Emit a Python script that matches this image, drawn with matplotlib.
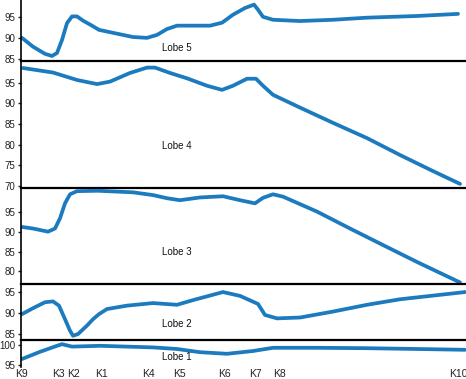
"""Stacked lobe profiles along the K stations."""

import matplotlib
matplotlib.use("Agg")
import matplotlib.pyplot as plt

plt.rcParams["font.family"] = ["Liberation Sans", "DejaVu Sans"]

LINE_COLOR = "#1c7bbf"

# station labels and their positions along the track
stations = ["K9", "K3", "K2", "K1", "K4", "K5", "K6", "K7", "K8", "K10"]
station_pos = [0, 36, 52, 79, 126, 157, 202, 233, 257, 436]

# lobe 5 (top panel)
lobe5_x = [0, 11, 23, 30, 35, 40, 45, 50, 55, 61, 70, 77, 91, 111, 125, 135,
           145, 155, 171, 188, 200, 211, 223, 232, 236, 241, 251, 278, 311,
           345, 395, 436]
lobe5_y = [90.0, 87.9, 86.2, 85.7, 86.4, 89.5, 93.5, 95.1, 95.1, 94.1, 92.9,
           91.9, 91.2, 90.2, 90.0, 90.7, 92.1, 92.9, 92.9, 92.9, 93.6, 95.5,
           97.1, 97.9, 96.7, 95.0, 94.3, 94.0, 94.3, 94.8, 95.2, 95.7]

# lobe 4
lobe4_x = [1, 31, 55, 75, 88, 108, 125, 133, 148, 165, 185, 200, 211, 225,
           234, 241, 251, 278, 311, 345, 378, 411, 438]
lobe4_y = [98.6, 97.5, 95.7, 94.7, 95.3, 97.4, 98.7, 98.7, 97.4, 96.1, 94.3,
           93.3, 94.3, 96.0, 96.0, 94.3, 92.1, 89.0, 85.3, 81.6, 77.5, 73.6, 70.5]

# lobe 3
lobe3_x = [0, 11, 26, 33, 38, 43, 48, 55, 76, 111, 131, 145, 158, 178, 201,
           218, 233, 241, 251, 261, 295, 328, 361, 395, 438]
lobe3_y = [91.3, 90.9, 90.1, 90.9, 93.5, 97.3, 99.6, 100.4, 100.5, 100.1,
           99.4, 98.6, 98.1, 98.8, 99.1, 98.1, 97.3, 98.7, 99.6, 99.0, 95.2,
           90.9, 86.7, 82.4, 77.2]

# lobe 2
lobe2_x = [0, 11, 23, 31, 37, 43, 48, 51, 56, 65, 71, 77, 85, 105, 131, 155,
           171, 201, 218, 236, 243, 255, 278, 311, 345, 378, 443]
lobe2_y = [89.7, 91.1, 92.5, 92.7, 91.7, 88.5, 85.8, 84.6, 85.0, 87.0, 88.5,
           89.7, 90.9, 91.7, 92.3, 91.9, 93.0, 94.9, 94.0, 92.1, 89.5, 88.7,
           88.9, 90.3, 91.9, 93.2, 94.9]

# lobe 1 (bottom panel)
lobe1_x = [0, 18, 35, 40, 50, 78, 131, 155, 178, 205, 231, 251, 295, 345, 395, 443]
lobe1_y = [96.5, 98.3, 99.8, 100.2, 99.6, 99.8, 99.4, 99.0, 98.2, 97.8, 98.5,
           99.3, 99.3, 99.2, 99.0, 98.8]

panels = [
    ("Lobe 5", lobe5_x, lobe5_y, (84.5, 99.0), [85, 90, 95]),
    ("Lobe 4", lobe4_x, lobe4_y, (69.5, 100.3), [70, 75, 80, 85, 90, 95]),
    ("Lobe 3", lobe3_x, lobe3_y, (76.8, 101.2), [80, 85, 90, 95]),
    ("Lobe 2", lobe2_x, lobe2_y, (83.6, 96.8), [85, 90, 95]),
    ("Lobe 1", lobe1_x, lobe1_y, (94.5, 101.25), [95, 100]),
]
label_y = [0.21, 0.33, 0.33, 0.29, 0.36]

# panel edges in pixels from the top of the figure
edges = [0, 61, 188, 284, 340, 367]
W, H = 466, 379
left = 21 / W

fig = plt.figure(figsize=(W / 100, H / 100), dpi=100)

for i, (name, xs, ys, ylim, ticks) in enumerate(panels):
    top, bot = edges[i], edges[i + 1]
    ax = fig.add_axes([left, (H - bot) / H, 1 - left, (bot - top) / H])
    ax.plot(xs, ys, color=LINE_COLOR, lw=2.7, solid_capstyle="round",
            solid_joinstyle="round")
    ax.set_xlim(-1, 444)
    ax.set_ylim(*ylim)
    ax.set_yticks(ticks)
    ax.tick_params(axis="y", direction="out", length=2.5, width=1,
                   labelsize=7, pad=1.5, colors="#222222")
    for side in ("top", "right"):
        ax.spines[side].set_visible(False)
    ax.spines["left"].set_linewidth(1.2)
    if i < len(panels) - 1:
        ax.spines["bottom"].set_linewidth(1.6)
        ax.set_xticks([])
    else:
        ax.spines["bottom"].set_visible(False)
        ax.set_xticks(station_pos)
        ax.set_xticklabels(stations)
        ax.tick_params(axis="x", length=0, labelsize=7.5, pad=1.5,
                       colors="#222222")
    ax.text(155, ylim[0] + label_y[i] * (ylim[1] - ylim[0]), name,
            ha="center", va="center", fontsize=7, color="#111111")
    ax.patch.set_alpha(0)

fig.savefig("out.png", dpi=100)
